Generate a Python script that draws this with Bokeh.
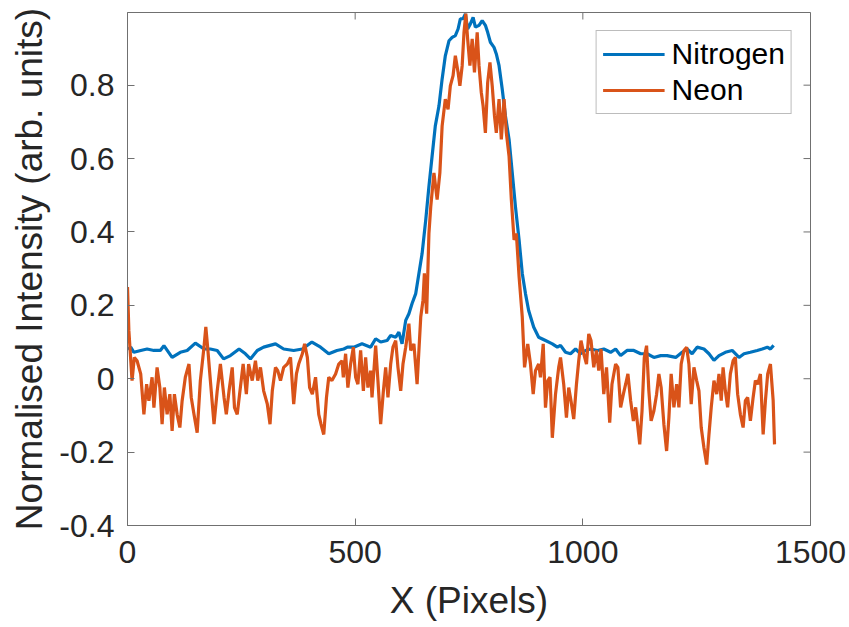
import math
from bokeh.plotting import figure
from bokeh.models import FixedTicker, PrintfTickFormatter, Range1d
from bokeh.embed import file_html
from bokeh.resources import INLINE

# ---- data ----
nitrogen_x = [1, 7, 14, 29, 43, 58, 72, 80, 98, 116, 131, 149, 168, 182, 197, 211, 226, 245, 259, 270,
              285, 299, 325, 343, 365, 384, 405, 424, 442, 460, 475, 483, 497, 515, 534, 545, 556, 570,
              578, 589, 596, 603, 611, 618, 625, 633, 640, 647, 655, 662, 669, 676, 684, 691, 698, 706,
              713, 720, 726, 731, 737, 742, 747, 753, 759, 764, 772, 779, 786, 791, 797, 805, 810, 816,
              823, 830, 838, 845, 852, 860, 867, 874, 881, 892, 903, 918, 933, 944, 951, 962, 973, 984,
              995, 1006, 1017, 1032, 1046, 1061, 1072, 1083, 1097, 1112, 1127, 1141, 1156, 1171, 1185,
              1204, 1218, 1229, 1240, 1251, 1266, 1277, 1288, 1299, 1313, 1328, 1343, 1354, 1368, 1383,
              1394, 1405, 1412, 1419]
nitrogen_y = [0.080, 0.086, 0.072, 0.077, 0.081, 0.077, 0.077, 0.090, 0.058, 0.072, 0.077, 0.097, 0.081,
              0.081, 0.077, 0.054, 0.063, 0.081, 0.068, 0.054, 0.077, 0.086, 0.095, 0.081, 0.077, 0.081,
              0.100, 0.086, 0.068, 0.077, 0.081, 0.086, 0.086, 0.095, 0.086, 0.109, 0.100, 0.104, 0.118,
              0.113, 0.127, 0.095, 0.159, 0.177, 0.205, 0.232, 0.287, 0.341, 0.433, 0.524, 0.607, 0.689,
              0.743, 0.817, 0.880, 0.921, 0.930, 0.935, 0.953, 0.981, 0.981, 0.994, 0.953, 0.967, 0.985,
              0.958, 0.963, 0.976, 0.963, 0.944, 0.917, 0.903, 0.885, 0.853, 0.789, 0.716, 0.652, 0.561,
              0.469, 0.378, 0.287, 0.232, 0.186, 0.141, 0.113, 0.104, 0.095, 0.086, 0.091, 0.072, 0.068,
              0.081, 0.068, 0.077, 0.081, 0.077, 0.081, 0.072, 0.081, 0.063, 0.077, 0.077, 0.068, 0.068,
              0.058, 0.063, 0.063, 0.058, 0.072, 0.081, 0.068, 0.086, 0.081, 0.068, 0.050, 0.063, 0.072,
              0.077, 0.058, 0.068, 0.072, 0.077, 0.081, 0.086, 0.081, 0.091]

neon_x = [0, 3, 10, 15, 21, 29, 36, 42, 47, 54, 58, 65, 71, 76, 81, 87, 93, 98, 103, 109, 115, 120, 127,
          135, 140, 146, 153, 160, 168, 172, 176, 182, 190, 197, 204, 212, 217, 223, 230, 235, 241, 247,
          254, 261, 266, 274, 281, 286, 292, 299, 307, 313, 318, 325, 330, 336, 343, 351, 358, 365, 371,
          376, 384, 389, 395, 400, 406, 413, 420, 425, 431, 437, 442, 449, 457, 464, 471, 474, 479, 484,
          490, 496, 501, 506, 512, 518, 523, 528, 534, 537, 545, 550, 556, 562, 567, 572, 578, 583, 589,
          594, 600, 605, 611, 618, 622, 629, 636, 640, 644, 649, 652, 657, 662, 666, 673, 680, 686, 691,
          698, 704, 709, 715, 720, 726, 730, 735, 739, 743, 747, 752, 757, 762, 768, 772, 777, 781, 786,
          791, 796, 801, 806, 810, 816, 821, 827, 832, 838, 843, 849, 854, 860, 867, 872, 879, 885, 891,
          896, 903, 907, 913, 918, 923, 928, 933, 940, 947, 951, 958, 964, 969, 974, 980, 986, 991, 996,
          1002, 1008, 1013, 1018, 1024, 1030, 1035, 1040, 1046, 1052, 1059, 1064, 1072, 1077, 1083, 1089,
          1094, 1099, 1105, 1111, 1116, 1121, 1125, 1130, 1135, 1140, 1145, 1150, 1156, 1162, 1167, 1172,
          1178, 1184, 1189, 1194, 1200, 1206, 1211, 1216, 1222, 1228, 1233, 1238, 1244, 1250, 1255, 1260,
          1266, 1272, 1277, 1282, 1288, 1294, 1299, 1304, 1308, 1313, 1318, 1324, 1330, 1335, 1340, 1346,
          1352, 1357, 1362, 1368, 1374, 1379, 1384, 1390, 1396, 1401, 1406, 1412, 1418, 1421]
neon_y = [0.250, 0.131, -0.005, 0.058, 0.049, 0.013, -0.097, -0.015, -0.060, 0.004, -0.079, 0.031, -0.024,
          -0.124, -0.024, -0.097, -0.042, -0.142, -0.042, -0.097, -0.133, -0.060, 0.004, 0.040, -0.051,
          -0.097, -0.147, -0.005, 0.086, 0.141, 0.086, -0.005, -0.124, -0.033, 0.040, -0.051, -0.097,
          -0.033, 0.031, -0.079, -0.097, -0.033, 0.040, -0.042, 0.040, -0.005, 0.049, -0.005, 0.031,
          -0.033, -0.069, -0.124, -0.033, 0.031, 0.022, -0.005, 0.031, 0.040, 0.058, -0.069, 0.013, 0.040,
          0.068, 0.095, 0.058, -0.024, -0.042, 0.004, -0.097, -0.124, -0.152, -0.051, 0.004, -0.005, 0.013,
          0.040, 0.049, 0.004, 0.068, -0.024, 0.040, 0.086, 0.004, -0.015, 0.077, -0.033, 0.058, -0.024,
          0.022, -0.051, 0.090, -0.005, -0.124, -0.033, 0.031, -0.051, 0.040, 0.086, 0.104, 0.031, -0.033,
          0.040, 0.086, 0.150, 0.077, 0.095, -0.015, 0.077, 0.168, 0.214, 0.287, 0.177, 0.396, 0.469, 0.561,
          0.488, 0.561, 0.689, 0.762, 0.734, 0.798, 0.826, 0.880, 0.835, 0.798, 0.853, 0.944, 0.995, 0.926,
          0.853, 0.926, 0.835, 0.944, 0.853, 0.780, 0.743, 0.670, 0.807, 0.862, 0.798, 0.716, 0.670, 0.762,
          0.652, 0.762, 0.670, 0.606, 0.488, 0.378, 0.396, 0.278, 0.168, 0.031, 0.095, 0.040, -0.042, 0.022,
          0.040, 0.004, 0.095, -0.079, -0.005, 0.004, -0.161, -0.042, 0.031, 0.058, -0.015, -0.106, -0.024,
          -0.060, -0.110, -0.015, 0.049, 0.104, 0.068, 0.040, 0.122, 0.104, 0.031, 0.077, 0.022, 0.081,
          -0.042, 0.031, -0.120, -0.015, 0.040, 0.031, -0.078, -0.042, -0.015, 0.013, -0.060, -0.115, -0.078,
          -0.133, -0.179, -0.088, 0.058, 0.090, -0.033, -0.115, -0.088, -0.042, 0.013, -0.024, -0.124,
          -0.197, -0.106, 0.013, -0.078, -0.015, -0.078, 0.040, 0.077, 0.086, 0.040, -0.069, 0.031, -0.005,
          -0.033, -0.133, -0.188, -0.234, -0.152, -0.078, -0.005, -0.042, 0.013, -0.060, 0.031, -0.033,
          -0.078, 0.013, 0.049, 0.058, -0.042, -0.097, -0.133, -0.060, -0.051, -0.115, -0.051, -0.005,
          -0.015, 0.013, -0.152, -0.060, 0.013, 0.040, -0.060, -0.179]

x_ticks = [0, 500, 1000, 1500]
y_ticks = [-0.4, -0.2, 0, 0.2, 0.4, 0.6, 0.8]
x_lim = (0, 1500)
y_lim = (-0.4, 0.998)
series_names = ["Nitrogen", "Neon"]
series_colors = ["#0072BD", "#D95319"]

FONT = "Liberation Sans"
TXT = "#262626"
AX = "#707070"

p = figure(frame_width=683, frame_height=513, x_range=Range1d(*x_lim), y_range=Range1d(*y_lim),
           output_backend="svg", toolbar_location=None,
           min_border_left=127, min_border_top=12, min_border_right=39, min_border_bottom=60,
           background_fill_color="white", border_fill_color="white")
p.xgrid.visible = False
p.ygrid.visible = False
p.outline_line_color = AX
p.outline_line_width = 1

p.line(nitrogen_x, nitrogen_y, color=series_colors[0], line_width=3.2, legend_label=series_names[0])
p.line(neon_x, neon_y, color=series_colors[1], line_width=3.2, legend_label=series_names[1])

# inward ticks on the top and right edges of the box (half of each dash is clipped by the frame)
p.scatter(x_ticks, [y_lim[1]] * len(x_ticks), marker="dash", size=14, angle=math.pi / 2,
          line_color=AX, line_width=1)
p.scatter([x_lim[1]] * len(y_ticks), y_ticks, marker="dash", size=14,
          line_color=AX, line_width=1)

for ax in (p.xaxis[0], p.yaxis[0]):
    ax.axis_line_color = AX
    ax.major_tick_line_color = AX
    ax.major_tick_in = 7
    ax.major_tick_out = 0
    ax.minor_tick_line_color = None
    ax.major_label_text_font = FONT
    ax.major_label_text_font_size = "32px"
    ax.major_label_text_color = TXT
    ax.axis_label_text_font = FONT
    ax.axis_label_text_font_size = "37px"
    ax.axis_label_text_font_style = "normal"
    ax.axis_label_text_color = TXT

p.xaxis.ticker = FixedTicker(ticks=x_ticks)
p.yaxis.ticker = FixedTicker(ticks=y_ticks)
p.yaxis.formatter = PrintfTickFormatter(format="%g")
p.xaxis.axis_label = "X (Pixels)"
p.yaxis.axis_label = "Normalised Intensity (arb. units)"
p.xaxis.major_label_standoff = 15
p.yaxis.major_label_standoff = 13
p.xaxis.axis_label_standoff = 14
p.yaxis.axis_label_standoff = 6

lg = p.legend[0]
lg.location = "top_right"
lg.margin = 18
lg.padding = 6
lg.spacing = 2
lg.glyph_width = 62
lg.glyph_height = 30
lg.label_height = 30
lg.label_standoff = 7
lg.label_text_font = FONT
lg.label_text_font_size = "30px"
lg.label_text_color = "#000000"
lg.border_line_color = "#7a7a7a"
lg.border_line_width = 1
lg.background_fill_color = "white"
lg.background_fill_alpha = 1

open("out.html", "w").write(file_html(p, INLINE))
